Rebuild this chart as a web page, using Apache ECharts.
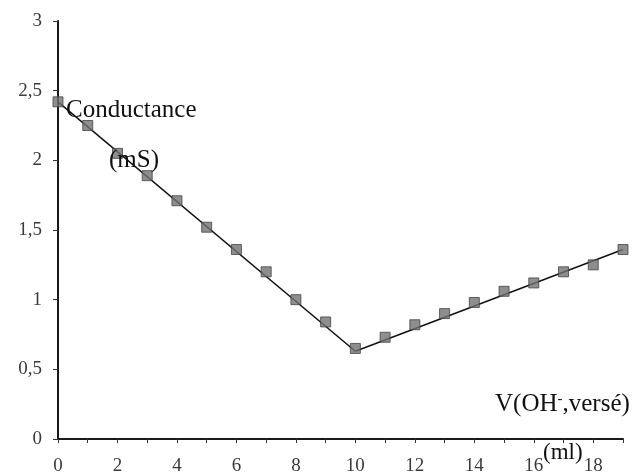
<!DOCTYPE html>
<html>
<head>
<meta charset="utf-8">
<script src="https://cdn.jsdelivr.net/npm/echarts@6/dist/echarts.min.js"></script>
<style>
  html, body { margin: 0; padding: 0; background: #fff; }
  #chart { width: 640px; height: 476px; }
</style>
</head>
<body>
<div id="chart"></div>
<script>
// Conductometric titration: conductance vs. volume of OH- added
const volumes = [0, 1, 2, 3, 4, 5, 6, 7, 8, 9, 10, 11, 12, 13, 14, 15, 16, 17, 18, 19];
const conductance = [2.42, 2.25, 2.05, 1.89, 1.71, 1.52, 1.36, 1.20, 1.00, 0.84, 0.65, 0.73, 0.82, 0.90, 0.98, 1.06, 1.12, 1.20, 1.25, 1.36];

// Straight-line fits on each side of the equivalence point
const fitBefore = [[0, 2.42], [10, 0.63]];
const fitAfter = [[10, 0.63], [19, 1.36]];

const yTickLabels = { 0: '0', 0.5: '0,5', 1: '1', 1.5: '1,5', 2: '2', 2.5: '2,5', 3: '3' };

const serif = '"Liberation Serif", "DejaVu Serif", serif';

const chart = echarts.init(document.getElementById('chart'), null, { renderer: 'canvas' });

chart.setOption({
  backgroundColor: '#ffffff',
  animation: false,
  grid: { left: 58, right: 17, top: 21, bottom: 36, containLabel: false },
  xAxis: {
    type: 'value',
    min: 0,
    max: 19,
    interval: 1,
    axisLine: { lineStyle: { color: '#1a1a1a', width: 2 } },
    axisTick: { show: true, inside: false, length: 4, lineStyle: { color: '#333', width: 1 } },
    axisLabel: {
      margin: 18,
      fontFamily: serif,
      fontSize: 19,
      color: '#3a3a3a',
      formatter: v => (v % 2 === 0 ? String(v) : '')
    },
    splitLine: { show: false }
  },
  yAxis: {
    type: 'value',
    min: 0,
    max: 3,
    interval: 0.5,
    axisLine: { show: true, lineStyle: { color: '#1a1a1a', width: 2 } },
    axisTick: { show: true, inside: false, length: 5, lineStyle: { color: '#333', width: 1 } },
    axisLabel: {
      margin: 16,
      fontFamily: serif,
      fontSize: 19,
      color: '#3a3a3a',
      formatter: v => yTickLabels[v] !== undefined ? yTickLabels[v] : ''
    },
    splitLine: { show: false }
  },
  series: [
    {
      type: 'line',
      data: fitBefore,
      symbol: 'none',
      lineStyle: { color: '#111', width: 1.5 },
      z: 2
    },
    {
      type: 'line',
      data: fitAfter,
      symbol: 'none',
      lineStyle: { color: '#111', width: 1.5 },
      z: 2
    },
    {
      type: 'scatter',
      data: volumes.map((v, i) => [v, conductance[i]]),
      symbol: 'rect',
      symbolSize: 10,
      itemStyle: { color: '#727272', borderColor: '#444', borderWidth: 1 },
      z: 3
    }
  ],
  graphic: [
    {
      type: 'text', left: 66, top: 98, z: 10,
      style: { text: 'Conductance', font: '25px ' + serif, fill: '#111' }
    },
    {
      type: 'text', left: 109, top: 148, z: 10,
      style: { text: '(mS)', font: '25px ' + serif, fill: '#111' }
    },
    {
      type: 'text', left: 495, top: 392, z: 10,
      style: {
        text: 'V(OH{sup|-},versé)',
        font: '25px ' + serif,
        fill: '#111',
        rich: {
          sup: { fontFamily: serif, fontSize: 15, fill: '#111', verticalAlign: 'top', padding: [0, 0, 10, 0] }
        }
      }
    },
    {
      type: 'text', left: 543, top: 441, z: 10,
      style: { text: '(ml)', font: '23px ' + serif, fill: '#111' }
    }
  ]
});
</script>
</body>
</html>
